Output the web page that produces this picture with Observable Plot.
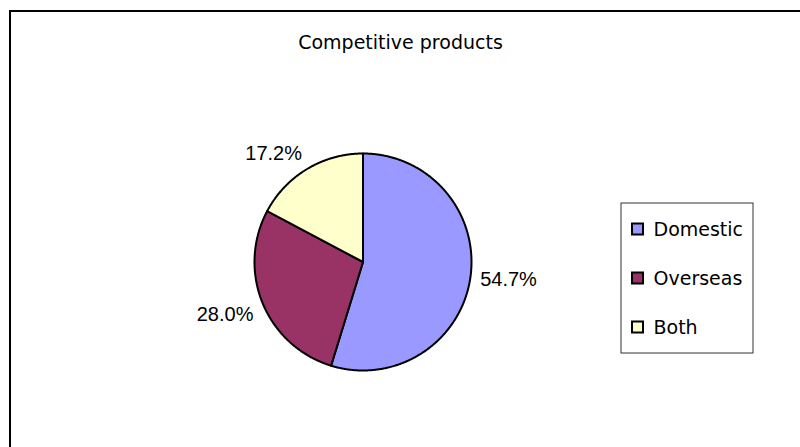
<!DOCTYPE html>
<html><head><meta charset="utf-8">
<script src="https://cdn.jsdelivr.net/npm/d3@7"></script>
<script src="https://cdn.jsdelivr.net/npm/@observablehq/plot@0.6"></script>
<style>
html,body{margin:0;padding:0;background:#fff;overflow:hidden;}
#wrap{position:relative;width:800px;height:447px;overflow:hidden;}
#border{position:absolute;left:9px;top:10px;width:900px;height:600px;border:2px solid #000;box-sizing:border-box;}
#chart{position:absolute;left:0;top:0;}
</style>
</head><body>
<div id="wrap"><div id="border"></div><div id="chart"></div></div>
<script>
// ---- data ----
const title = "Competitive products";
const categories = ["Domestic", "Overseas", "Both"];
const shares = [54.7, 28.0, 17.2];
const shareLabels = ["54.7%", "28.0%", "17.2%"];
const colors = ["#9999FF", "#993366", "#FFFFCC"];

// ---- layout ----
const W = 800, H = 447;
const cx = 362.5, cy = 261.5, R = 108.5, labelGap = 10;
const legendBox = {x1: 621, x2: 753, y1: 203, y2: 353};
const legendRow0 = 229, legendStep = 49, markerX = 637.5, markerSize = 11, legendTextX = 653;

const total = d3.sum(shares);
let acc = 0;
const slices = categories.map((name, i) => {
  const a0 = acc / total * 2 * Math.PI;
  acc += shares[i];
  const a1 = acc / total * 2 * Math.PI;
  return {name, value: shares[i], label: shareLabels[i], color: colors[i], a0, a1, i};
});

function slicePoints(s) {
  const pts = [{x: cx, y: cy}];
  const n = Math.max(2, Math.ceil((s.a1 - s.a0) / (Math.PI / 360)));
  for (let k = 0; k <= n; k++) {
    const a = s.a0 + (s.a1 - s.a0) * k / n;
    pts.push({x: cx + R * Math.sin(a), y: cy - R * Math.cos(a)});
  }
  return pts;
}

const labelData = slices.map(s => {
  const m = (s.a0 + s.a1) / 2;
  const sn = Math.sin(m), cs = Math.cos(m);
  return {
    text: s.label,
    x: cx + (R + labelGap) * sn,
    y: cy - (R + labelGap) * cs,
    anchor: sn >= 0 ? "start" : "end",
    line: Math.abs(cs) < 0.3 ? "middle" : (cs > 0 ? "bottom" : "top")
  };
});

const legendData = slices.map((s, i) => ({name: s.name, color: s.color, y: legendRow0 + i * legendStep}));

const marks = [];
slices.forEach(s => {
  marks.push(Plot.line(slicePoints(s), {x: "x", y: "y", fill: s.color, stroke: "#000", strokeWidth: 2, curve: "linear-closed", strokeLinejoin: "round"}));
});
["start", "end", "middle"].forEach(anchor => ["top", "bottom", "middle"].forEach(line => {
  const d = labelData.filter(l => l.anchor === anchor && l.line === line);
  if (d.length) marks.push(Plot.text(d, {x: "x", y: "y", text: "text", textAnchor: anchor, lineAnchor: line, fontSize: 20, fontFamily: "Liberation Sans, Arial, sans-serif", fill: "#000"}));
}));
marks.push(Plot.rect([legendBox], {x1: "x1", x2: "x2", y1: "y1", y2: "y2", fill: "#fff", stroke: "#333", strokeWidth: 1}));
marks.push(Plot.rect(legendData, {x1: d => markerX - markerSize / 2, x2: d => markerX + markerSize / 2, y1: d => d.y - markerSize / 2, y2: d => d.y + markerSize / 2, fill: d => d.color, stroke: "#000", strokeWidth: 2}));
marks.push(Plot.text(legendData, {x: legendTextX, y: "y", text: "name", textAnchor: "start", lineAnchor: "middle", fontSize: 19, fontFamily: "DejaVu Sans, sans-serif", fill: "#000"}));
marks.push(Plot.text([title], {x: W / 2, y: 48, text: d => d, textAnchor: "middle", lineAnchor: "bottom", fontSize: 19, fontFamily: "DejaVu Sans, sans-serif", fill: "#000"}));

const chart = Plot.plot({
  width: W, height: H,
  margin: 0,
  x: {type: "linear", domain: [0, W], range: [0, W], axis: null},
  y: {type: "linear", domain: [0, H], range: [0, H], axis: null},
  color: {type: "identity"},
  style: {background: "transparent", overflow: "visible"},
  marks
});
document.getElementById("chart").appendChild(chart);
</script>
</body></html>
